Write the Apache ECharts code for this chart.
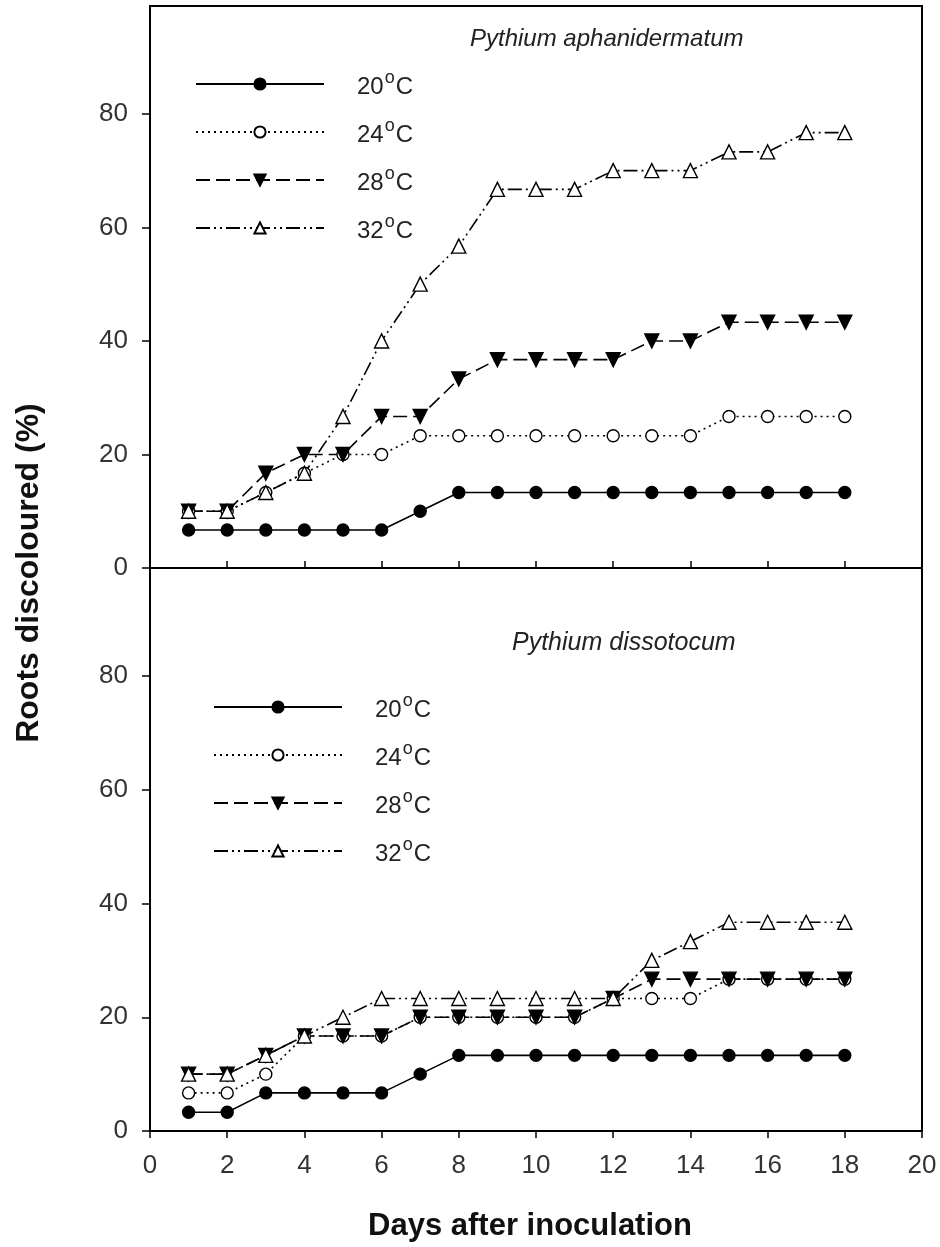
<!DOCTYPE html>
<html>
<head>
<meta charset="utf-8">
<script src="https://cdn.jsdelivr.net/npm/echarts@6/dist/echarts.min.js"></script>
<style>
html,body{margin:0;padding:0;background:#fff;}
#chart{width:940px;height:1247px;}
</style>
</head>
<body>
<div id="chart"></div>
<script>
// ---- data ----
const days = [1,2,3,4,5,6,7,8,9,10,11,12,13,14,15,16,17,18];
const xTicks = [0,2,4,6,8,10,12,14,16,18,20];
const yTicks = [0,20,40,60,80];
const seriesNames = ['20°C','24°C','28°C','32°C'];
const panelTitles = ['Pythium aphanidermatum','Pythium dissotocum'];

// Pythium aphanidermatum (top)
const apha20 = [6.7,6.7,6.7,6.7,6.7,6.7,10,13.3,13.3,13.3,13.3,13.3,13.3,13.3,13.3,13.3,13.3,13.3];
const apha24 = [10,10,13.3,16.7,20,20,23.3,23.3,23.3,23.3,23.3,23.3,23.3,23.3,26.7,26.7,26.7,26.7];
const apha28 = [10,10,16.7,20,20,26.7,26.7,33.3,36.7,36.7,36.7,36.7,40,40,43.3,43.3,43.3,43.3];
const apha32 = [10,10,13.3,16.7,26.7,40,50,56.7,66.7,66.7,66.7,70,70,70,73.3,73.3,76.7,76.7];

// Pythium dissotocum (bottom)
const diss20 = [3.3,3.3,6.7,6.7,6.7,6.7,10,13.3,13.3,13.3,13.3,13.3,13.3,13.3,13.3,13.3,13.3,13.3];
const diss24 = [6.7,6.7,10,16.7,16.7,16.7,20,20,20,20,20,23.3,23.3,23.3,26.7,26.7,26.7,26.7];
const diss28 = [10,10,13.3,16.7,16.7,16.7,20,20,20,20,20,23.3,26.7,26.7,26.7,26.7,26.7,26.7];
const diss32 = [10,10,13.3,16.7,20,23.3,23.3,23.3,23.3,23.3,23.3,23.3,30,33.3,36.7,36.7,36.7,36.7];

// ---- styles ----
const FONT = '"Liberation Sans", Arial, sans-serif';
const styles = [
  {symbol:'circle', symbolSize:12, symbolRotate:0, fill:'#000', dash:'solid'},
  {symbol:'circle', symbolSize:12, symbolRotate:0, fill:'#fff', dash:[2,4]},
  {symbol:'triangle', symbolSize:14, symbolRotate:180, fill:'#000', dash:[14,6]},
  {symbol:'triangle', symbolSize:14, symbolRotate:0, fill:'#fff', dash:[14,4,2,4,2,4]}
];

function makeSeries(name, values, idx, st) {
  return {
    name: name,
    type: 'line',
    xAxisIndex: idx,
    yAxisIndex: idx,
    data: days.map((d, i) => [d, values[i]]),
    symbol: st.symbol,
    symbolSize: st.symbolSize,
    symbolRotate: st.symbolRotate,
    showAllSymbol: true,
    itemStyle: {color: st.fill, borderColor: '#000', borderWidth: 1.4, opacity: 1},
    lineStyle: {color: '#000', width: 1.6, type: st.dash},
    emphasis: {disabled: true},
    silent: true
  };
}

const topVals = [apha20, apha24, apha28, apha32];
const botVals = [diss20, diss24, diss28, diss32];
const series = [];
seriesNames.forEach((n, i) => series.push(makeSeries(n, topVals[i], 0, styles[i])));
seriesNames.forEach((n, i) => series.push(makeSeries(n, botVals[i], 1, styles[i])));

const legendRich = {
  sp: {width: 28},
  a: {fontSize: 24, fontFamily: FONT, color: '#222', lineHeight: 30, padding: [6,0,0,0]},
  s: {fontSize: 18, fontFamily: FONT, color: '#222', verticalAlign: 'top', padding: [0,1,0,1]}
};
function legendFmt(name) {
  return '{sp|}{a|' + name.slice(0, 2) + '}{s|o}{a|C}';
}
function makeLegend(left, top) {
  return {
    orient: 'vertical',
    left: left, top: top,
    itemWidth: 128, itemHeight: 14, itemGap: 18,
    padding: 0,
    selectedMode: false,
    data: seriesNames,
    formatter: legendFmt,
    textStyle: {rich: legendRich}
  };
}

function yAxisCfg(idx) {
  return {
    type: 'value', gridIndex: idx, min: 0, max: 99,
    axisLine: {show: true, lineStyle: {color: '#000', width: 2}},
    axisTick: {show: true, inside: false, length: 8, lineStyle: {color: '#000', width: 1.5}, customValues: yTicks},
    axisLabel: {show: true, fontSize: 26, color: '#333', fontFamily: FONT, margin: 22, customValues: yTicks},
    splitLine: {show: false}
  };
}

const option = {
  animation: false,
  backgroundColor: '#fff',
  title: [
    {text: panelTitles[0], left: 470, top: 27, padding: 0,
     textStyle: {fontStyle: 'italic', fontWeight: 'normal', fontSize: 24, color: '#222', fontFamily: FONT}},
    {text: panelTitles[1], left: 512, top: 631, padding: 0,
     textStyle: {fontStyle: 'italic', fontWeight: 'normal', fontSize: 25, color: '#222', fontFamily: FONT}}
  ],
  legend: [makeLegend(195, 69), makeLegend(213, 692)],
  grid: [
    {left: 150, top: 6, width: 772, height: 562, show: true, borderColor: '#000', borderWidth: 2, containLabel: false},
    {left: 150, top: 568, width: 772, height: 563, show: true, borderColor: '#000', borderWidth: 2, containLabel: false}
  ],
  xAxis: [
    {type: 'value', gridIndex: 0, min: 0, max: 20, interval: 2,
     axisLine: {show: true, onZero: false, lineStyle: {color: '#000', width: 2}},
     axisTick: {show: true, inside: true, length: 7, lineStyle: {color: '#000', width: 1.5}},
     axisLabel: {show: false}, splitLine: {show: false}},
    {type: 'value', gridIndex: 1, min: 0, max: 20, interval: 2,
     axisLine: {show: true, onZero: false, lineStyle: {color: '#000', width: 2}},
     axisTick: {show: true, inside: false, length: 7, lineStyle: {color: '#000', width: 1.5}},
     axisLabel: {show: true, fontSize: 26, color: '#333', fontFamily: FONT, margin: 22,
       customValues: xTicks},
     splitLine: {show: false}}
  ],
  yAxis: [yAxisCfg(0), yAxisCfg(1)],
  graphic: [
    {type: 'text', x: 29, y: 573, rotation: Math.PI / 2, silent: true,
     style: {text: 'Roots discoloured (%)', font: 'bold 32px ' + FONT, fill: '#111', align: 'center', verticalAlign: 'middle'}},
    {type: 'text', x: 530, y: 1226, silent: true,
     style: {text: 'Days after inoculation', font: 'bold 31px ' + FONT, fill: '#111', align: 'center', verticalAlign: 'middle'}}
  ],
  series: series
};

const chart = echarts.init(document.getElementById('chart'), null, {renderer: 'canvas'});
chart.setOption(option);
</script>
</body>
</html>
